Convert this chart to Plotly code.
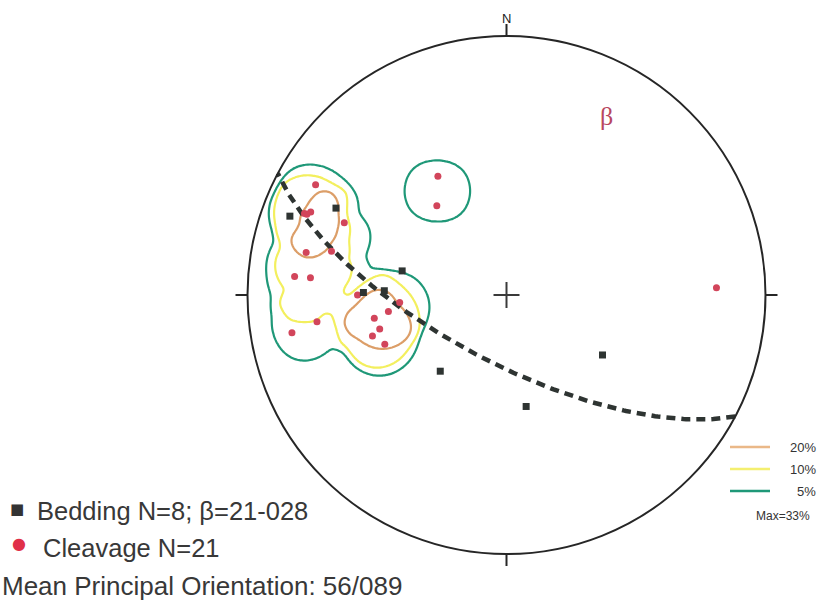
import numpy as np
import plotly.graph_objects as go

# ---------------- data (poles: trend / plunge, degrees) ----------------
bed_trend = [290, 297, 283, 271, 272, 221, 122, 170]
bed_plunge = [12, 27, 56, 44, 51, 58, 54, 54]

clv_trend = [300, 292, 293, 294, 282, 284, 275, 275, 262, 260, 270,
             262, 260, 255, 253, 248, 266, 330, 322, 88, 292]
clv_plunge = [16, 17, 19, 32, 22, 31, 19, 25, 27, 17, 42,
              52, 47, 48, 45, 48, 56, 46, 54, 20, 18]

beta_trend, beta_plunge = 28, 21
contour_levels = [5, 10, 20]
max_density = 33
legend_bedding = "Bedding N=8; \u03b2=21-028"
legend_cleavage = "Cleavage N=21"
mean_orientation = "Mean Principal Orientation: 56/089"

# ---------------- styles ----------------
contour_colors = {5: "#1f9878", 10: "#f3ef5e", 20: "#dc9e68"}
legend_line_colors = {5: "#1f9878", 10: "#f4ef70", 20: "#eab888"}
red = "#d2455b"
dark = "#2e3432"
FONT = "Liberation Sans"


def proj(trend, plunge):
    t = np.radians(np.asarray(trend, float))
    p = np.radians(np.asarray(plunge, float))
    r = np.sqrt(2) * np.sin((np.pi / 2 - p) / 2)
    return r * np.sin(t), r * np.cos(t)


def vec(trend, plunge):
    t, p = np.radians(trend), np.radians(plunge)
    return np.array([np.cos(p) * np.sin(t), np.cos(p) * np.cos(t), np.sin(p)])


# great circle whose pole is beta
strike_v = vec(beta_trend + 90, 0)
dip_v = vec(beta_trend + 180, 90 - beta_plunge)
ts = np.linspace(0, np.pi, 200)
gc = np.outer(np.cos(ts), strike_v) + np.outer(np.sin(ts), dip_v)
gz = np.clip(gc[:, 2], 0, 1)
g_tr = np.degrees(np.arctan2(gc[:, 0], gc[:, 1]))
g_pl = np.degrees(np.arcsin(gz))
gcx, gcy = proj(g_tr, g_pl)

# density: smoothed counting circle, % of cleavage poles
cx, cy = proj(clv_trend, clv_plunge)
n = len(clv_trend)
count_r, soft = 0.14, 0.012
gx = np.linspace(-1, 1, 241)
gy = np.linspace(-1, 1, 241)
GX, GY = np.meshgrid(gx, gy)
Z = np.zeros_like(GX)
for xi, yi in zip(cx, cy):
    d = np.hypot(GX - xi, GY - yi)
    Z += 1.0 / (1.0 + np.exp((d - count_r) / soft))
Z *= 100.0 / n
Z[GX ** 2 + GY ** 2 > 1.0] = np.nan

fig = go.Figure()
for lev in contour_levels:
    fig.add_trace(go.Contour(
        x=gx, y=gy, z=Z, showscale=False, hoverinfo="skip",
        contours=dict(start=lev, end=lev, size=1, coloring="none"),
        line=dict(color=contour_colors[lev], width=2.2, smoothing=1.0),
        name=f"{lev}%"))

fig.add_trace(go.Scatter(x=gcx, y=gcy, mode="lines",
                         line=dict(color=dark, width=4.5, dash="9px,6px"),
                         hoverinfo="skip", showlegend=False))

fig.add_trace(go.Scatter(x=cx, y=cy, mode="markers",
                         marker=dict(symbol="circle", size=7, color=red),
                         showlegend=False))
bx, by = proj(bed_trend, bed_plunge)
fig.add_trace(go.Scatter(x=bx, y=by, mode="markers",
                         marker=dict(symbol="square", size=7, color=dark),
                         showlegend=False))

# primitive, ticks and centre cross
shapes = [dict(type="circle", xref="x", yref="y", x0=-1, y0=-1, x1=1, y1=1,
               line=dict(color="#262626", width=2))]
tk = 12 / 259
for x0, y0, x1, y1 in [(0, 1, 0, 1 + tk), (1, 0, 1 + tk, 0),
                       (0, -1, 0, -1 - tk), (-1, 0, -1 - tk, 0)]:
    shapes.append(dict(type="line", xref="x", yref="y", x0=x0, y0=y0, x1=x1, y1=y1,
                       line=dict(color="#262626", width=2)))
arm = 13 / 259
shapes.append(dict(type="line", xref="x", yref="y", x0=-arm, y0=0, x1=arm, y1=0,
                   line=dict(color="#3a3a3a", width=2)))
shapes.append(dict(type="line", xref="x", yref="y", x0=0, y0=-arm, x1=0, y1=arm,
                   line=dict(color="#3a3a3a", width=2)))

W, H = 820, 608


def px(x):
    return x / W


def py(y):
    return 1 - y / H


# contour legend lines
for lev, yy in zip([20, 10, 5], [447, 469, 491]):
    shapes.append(dict(type="line", xref="paper", yref="paper",
                       x0=px(730), x1=px(770), y0=py(yy), y1=py(yy),
                       line=dict(color=legend_line_colors[lev], width=2.5)))

bpx, bpy = proj(beta_trend, beta_plunge)
annotations = [
    dict(x=0, y=1 + 17.5 / 259, xref="x", yref="y", text="N", showarrow=False,
         font=dict(family=FONT, size=13, color="#222"), yanchor="middle"),
    dict(x=float(bpx), y=float(bpy), xref="x", yref="y", text="\u03b2", showarrow=False,
         xshift=3, yshift=-5,
         font=dict(family="Liberation Serif", size=26, color="#b8475f")),
    dict(x=px(17), y=py(509), xref="paper", yref="paper", text="\u25a0", showarrow=False,
         xanchor="center", yanchor="middle", font=dict(family="DejaVu Sans", size=15, color="#333")),
    dict(x=px(35), y=py(511), xref="paper", yref="paper", text=legend_bedding, showarrow=False,
         xanchor="left", yanchor="middle", font=dict(family=FONT, size=25.5, color="#383838")),
    dict(x=px(19), y=py(543), xref="paper", yref="paper", text="\u25cf", showarrow=False,
         xanchor="center", yanchor="middle", font=dict(family="DejaVu Sans", size=16, color="#e03048")),
    dict(x=px(41), y=py(548), xref="paper", yref="paper", text=legend_cleavage, showarrow=False,
         xanchor="left", yanchor="middle", font=dict(family=FONT, size=25.5, color="#383838")),
    dict(x=px(0), y=py(586), xref="paper", yref="paper", text=mean_orientation, showarrow=False,
         xanchor="left", yanchor="middle", font=dict(family=FONT, size=26, color="#383838")),
]
for lev, yy in zip([20, 10, 5], [447, 469, 491]):
    annotations.append(dict(x=px(818), y=py(yy), xref="paper", yref="paper",
                            text=f"{lev}%", showarrow=False, xanchor="right", yanchor="middle",
                            font=dict(family=FONT, size=13, color="#333")))
annotations.append(dict(x=px(812), y=py(516), xref="paper", yref="paper",
                        text=f"Max={max_density}%", showarrow=False, xanchor="right",
                        yanchor="middle", font=dict(family=FONT, size=12, color="#333")))

fig.update_layout(
    width=W, height=H, margin=dict(l=0, r=0, t=0, b=0),
    paper_bgcolor="white", plot_bgcolor="white", showlegend=False,
    xaxis=dict(range=[-506.5 / 259, (W - 506.5) / 259], visible=False, fixedrange=True),
    yaxis=dict(range=[-(H - 295) / 259, 295 / 259], visible=False, fixedrange=True),
    shapes=shapes, annotations=annotations,
)

fig.write_html("out.html", config={"displayModeBar": False},
               post_script="document.body.style.margin='0px';")
